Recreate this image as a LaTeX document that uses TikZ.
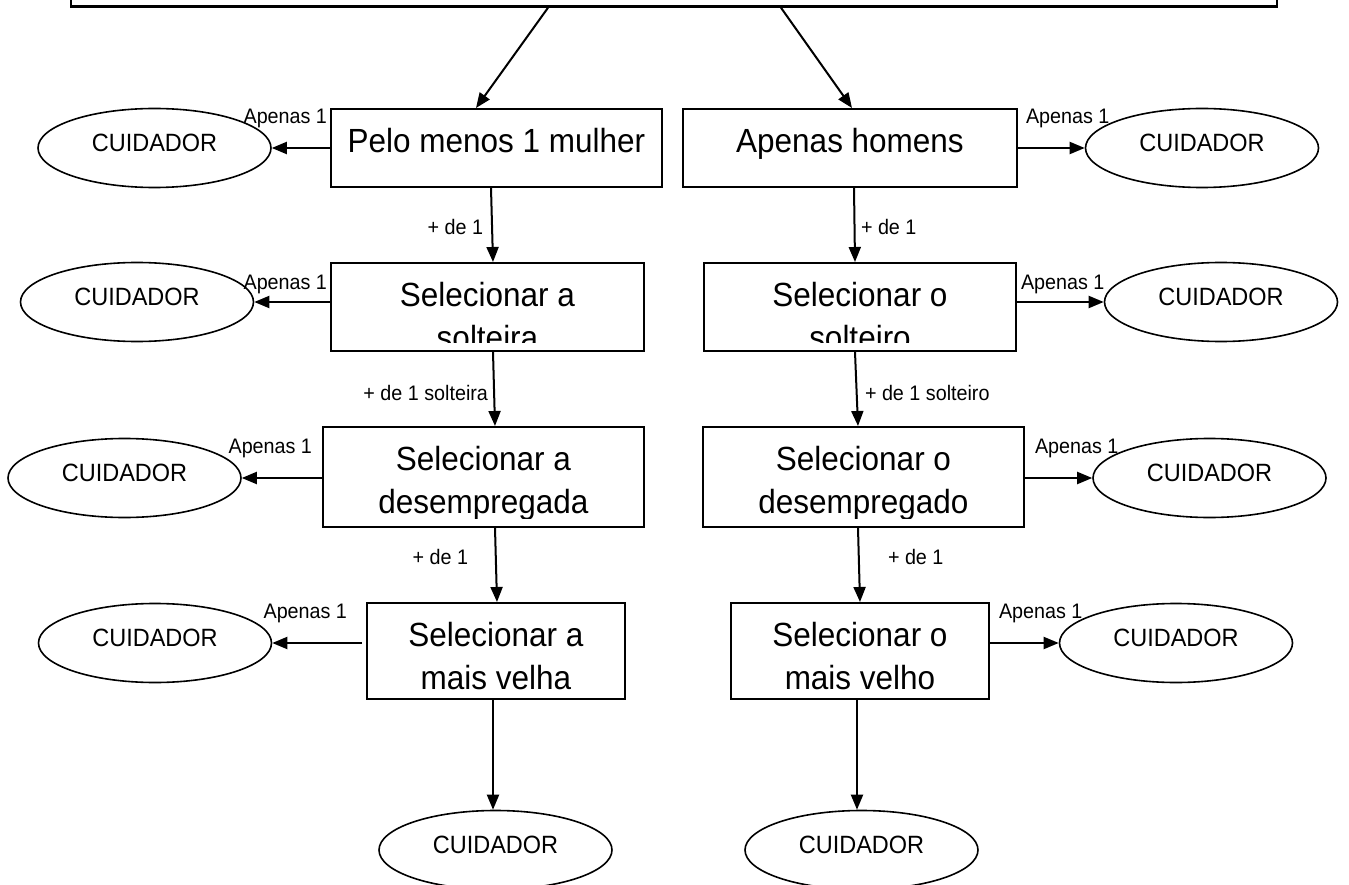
\documentclass[tikz,border=0pt]{standalone}
\usepackage{fontspec}
\setmainfont{Liberation Sans}[FakeStretch=0.94]
\usetikzlibrary{shapes.geometric,arrows.meta}

\begin{document}
\begin{tikzpicture}[x=1pt,y=-1pt,>={Triangle[length=15pt,width=12pt]},line width=2pt,
  caixa/.style={draw,line width=2pt,inner sep=0pt,
    path picture={\clip (path picture bounding box.north west) rectangle ([yshift=9pt]path picture bounding box.south east);
      \node[anchor=north,align=center,inner sep=0pt,minimum width=0pt,minimum height=0pt,
      font=\fontsize{33.5}{43}\selectfont] at ([yshift=-18pt]path picture bounding box.north) {#1};}},
  cuid/.style={ellipse,draw,line width=1.6pt,minimum width=233pt,minimum height=79pt,inner sep=0pt,
    text depth=10pt,font=\fontsize{25}{30}\selectfont},
  rot/.style={inner sep=0pt,font=\fontsize{21}{25}\selectfont}]

    \useasboundingbox (0,0) rectangle (1349,885);

    % The group box
    \node [draw,line width=2.5pt,minimum width=1206pt,minimum height=80pt] (grupo) at (674,-33.5) {};

    % Left column
    \node [caixa={Pelo menos 1 mulher},minimum width=331pt,minimum height=78pt] (m1) at (496.5,148) {};
    \node [caixa={Selecionar a\\solteira},minimum width=313pt,minimum height=88pt] (m2) at (487.5,307) {};
    \node [caixa={Selecionar a\\desempregada},minimum width=321pt,minimum height=100pt] (m3) at (483.5,477) {};
    \node [caixa={Selecionar a\\mais velha},minimum width=258pt,minimum height=96pt] (m4) at (496,651) {};
    \node [cuid] (cm1) at (154.5,148) {CUIDADOR};
    \node [cuid] (cm2) at (137,302) {CUIDADOR};
    \node [cuid] (cm3) at (124.5,478) {CUIDADOR};
    \node [cuid] (cm4) at (155,643) {CUIDADOR};
    \node [cuid] (cm5) at (495.5,850) {CUIDADOR};

    % Right column
    \node [caixa={Apenas homens},minimum width=334pt,minimum height=78pt] (h1) at (850,148) {};
    \node [caixa={Selecionar o\\solteiro},minimum width=312pt,minimum height=88pt] (h2) at (860,307) {};
    \node [caixa={Selecionar o\\desempregado},minimum width=321pt,minimum height=100pt] (h3) at (863.5,477) {};
    \node [caixa={Selecionar o\\mais velho},minimum width=258pt,minimum height=96pt] (h4) at (860,651) {};
    \node [cuid] (ch1) at (1202,148) {CUIDADOR};
    \node [cuid] (ch2) at (1221,302) {CUIDADOR};
    \node [cuid] (ch3) at (1209.5,478) {CUIDADOR};
    \node [cuid] (ch4) at (1176,643) {CUIDADOR};
    \node [cuid] (ch5) at (861.5,850) {CUIDADOR};

    % Labels
    \node [rot,anchor=base east] (am1) at (328,124) {Apenas 1};
    \node [rot,anchor=base east] (am2) at (328,290) {Apenas 1};
    \node [rot,anchor=base east] (am3) at (313,453) {Apenas 1};
    \node [rot,anchor=base east] (am4) at (348,618) {Apenas 1};
    \node [rot,anchor=base west] (ah1) at (1025,124) {Apenas 1};
    \node [rot,anchor=base west] (ah2) at (1020,290) {Apenas 1};
    \node [rot,anchor=base west] (ah3) at (1034,453) {Apenas 1};
    \node [rot,anchor=base west] (ah4) at (998,618) {Apenas 1};
    \node [rot,anchor=base east] (dm1) at (484,235) {+ de 1};
    \node [rot,anchor=base east] (dm2) at (489,400) {+ de 1 solteira};
    \node [rot,anchor=base east] (dm3) at (469,564) {+ de 1};
    \node [rot,anchor=base west] (dh1) at (860,235) {+ de 1};
    \node [rot,anchor=base west] (dh2) at (864,400) {+ de 1 solteiro};
    \node [rot,anchor=base west] (dh3) at (887,564) {+ de 1};

    % Graph edges
    \path[->]
    ([xshift=-126pt]grupo.south) edge ([xshift=-20.5pt]m1.north)
    ([xshift=107pt]grupo.south) edge ([xshift=2pt]h1.north)
    ([xshift=-5.5pt]m1.south) edge ([xshift=5.5pt]m2.north)
    ([xshift=5.5pt]m2.south) edge ([xshift=11.5pt]m3.north)
    ([xshift=11.5pt]m3.south) edge ([xshift=1pt]m4.north)
    ([xshift=-3pt]m4.south) edge ([xshift=-2.5pt]cm5.north)
    ([xshift=4pt]h1.south) edge ([xshift=-5pt]h2.north)
    ([xshift=-5pt]h2.south) edge ([xshift=-5.5pt]h3.north)
    ([xshift=-5.5pt]h3.south) edge (h4.north)
    ([xshift=-3pt]h4.south) edge ([xshift=-4.5pt]ch5.north)
    ;

    % Graph edges
    \path[->]
    (m1.west |- cm1.east) edge (cm1.east)
    (m2.west |- cm2.east) edge (cm2.east)
    (m3.west |- cm3.east) edge (cm3.east)
    ([xshift=-4pt]m4.west |- cm4.east) edge (cm4.east)
    (h1.east |- ch1.west) edge (ch1.west)
    (h2.east |- ch2.west) edge (ch2.west)
    (h3.east |- ch3.west) edge (ch3.west)
    (h4.east |- ch4.west) edge (ch4.west)
    ;

\end{tikzpicture}
\end{document}
